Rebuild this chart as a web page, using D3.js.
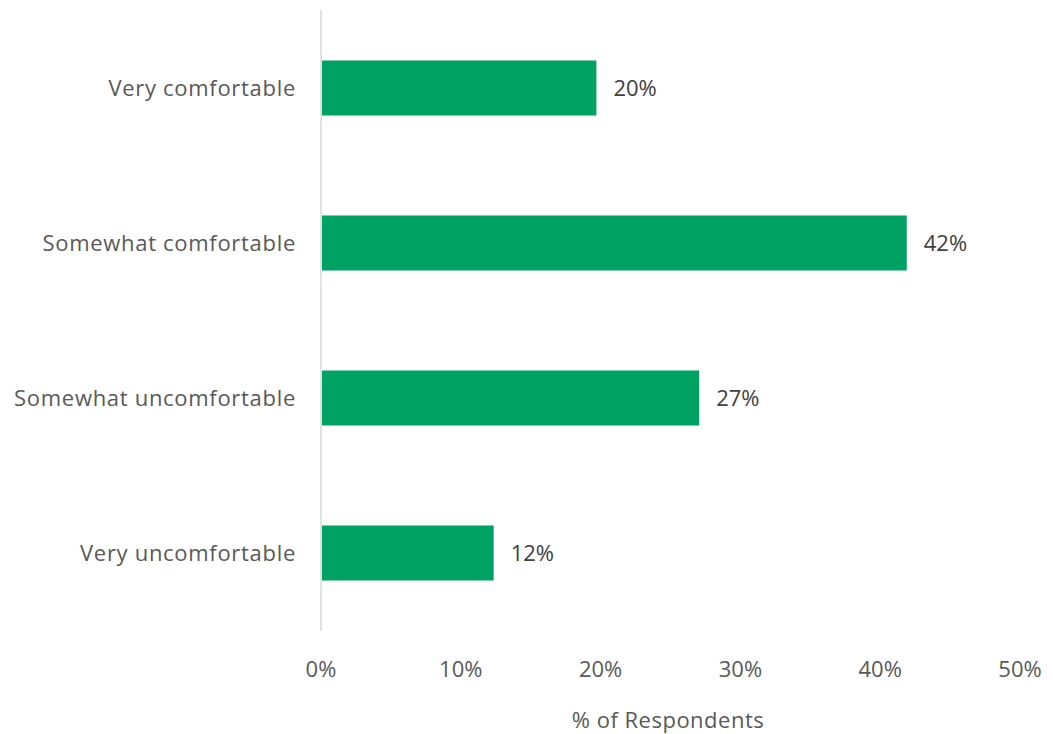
<!DOCTYPE html>
<html><head><meta charset="utf-8">
<script src="https://cdn.jsdelivr.net/npm/d3@7"></script>
<style>body{margin:0;background:#fff;} svg{display:block;}</style>
</head><body>
<svg id="chart" width="1053" height="734"></svg>
<script>
const categories = ["Very comfortable","Somewhat comfortable","Somewhat uncomfortable","Very uncomfortable"];
const values = [19.7, 41.9, 27.05, 12.35];
const valueLabels = ["20%","42%","27%","12%"];
const tickValues = [0,10,20,30,40,50];
const axisTitle = "% of Respondents";

const svg = d3.select("#chart");
const font = "'Open Sans', 'Liberation Sans', sans-serif";
const x = d3.scaleLinear().domain([0,50]).range([321,1020]);
const y = d3.scaleBand().domain(categories).range([10.5,630.5]).paddingInner(0.645).paddingOuter(0.3225);

svg.selectAll("rect.bar").data(categories).join("rect")
  .attr("class","bar")
  .attr("x", x(0)+1)
  .attr("y", d=>y(d))
  .attr("width", (d,i)=>x(values[i])-x(0)-1)
  .attr("height", y.bandwidth())
  .attr("fill","#00a263");

svg.append("line").attr("x1",x(0)).attr("x2",x(0)).attr("y1",10).attr("y2",631)
  .attr("stroke","#d9d9d9").attr("stroke-width",1.5);

svg.selectAll("text.cat").data(categories).join("text")
  .attr("class","cat")
  .attr("x", x(0)-25)
  .attr("y", d=>y(d)+y.bandwidth()/2)
  .attr("dy","0.35em")
  .attr("text-anchor","end")
  .attr("font-family",font).attr("font-size",22)
  .attr("letter-spacing",0.7)
  .attr("fill","#595959")
  .text(d=>d);

svg.selectAll("text.val").data(categories).join("text")
  .attr("class","val")
  .attr("x", (d,i)=>x(values[i])+17)
  .attr("y", d=>y(d)+y.bandwidth()/2)
  .attr("dy","0.35em")
  .attr("font-family",font).attr("font-size",22)
  .attr("fill","#404040")
  .text((d,i)=>valueLabels[i]);

svg.selectAll("text.tick").data(tickValues).join("text")
  .attr("class","tick")
  .attr("x", d=>x(d))
  .attr("y", 677)
  .attr("text-anchor","middle")
  .attr("font-family",font).attr("font-size",22)
  .attr("fill","#595959")
  .text(d=>d+"%");

svg.append("text").attr("x",668).attr("y",728).attr("text-anchor","middle")
  .attr("font-family",font).attr("font-size",22).attr("letter-spacing",0.5).attr("fill","#595959")
  .text(axisTitle);
</script>
</body></html>
